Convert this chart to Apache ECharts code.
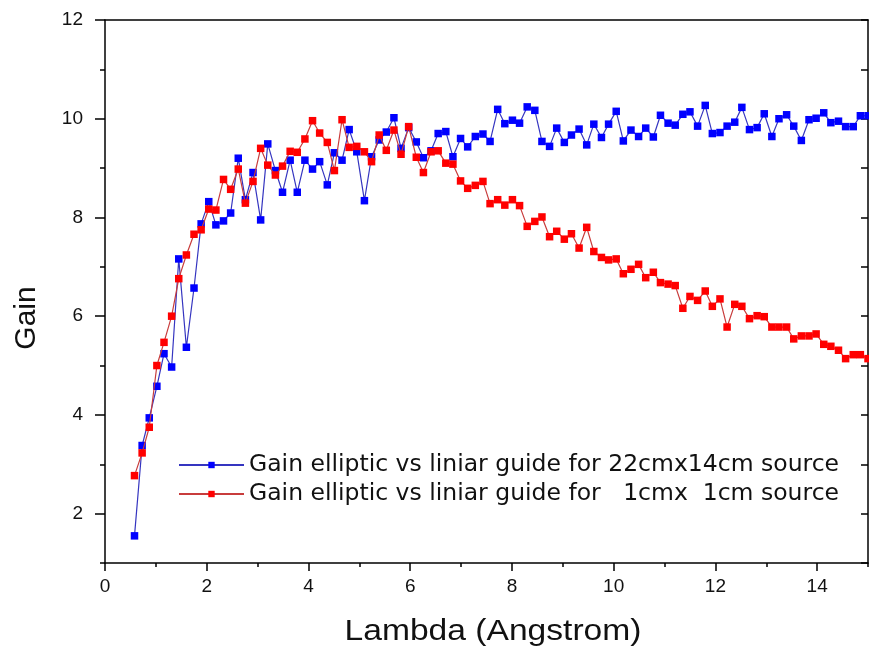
<!DOCTYPE html>
<html>
<head>
<meta charset="utf-8">
<script src="https://cdn.jsdelivr.net/npm/echarts@6/dist/echarts.min.js"></script>
<style>
html,body{margin:0;padding:0;background:#fff;}
#chart{width:869px;height:650px;}
</style>
</head>
<body>
<div id="chart"></div>
<script>
// Wavelength grid (Angstrom)
var lambda = [0.58,0.73,0.87,1.02,1.16,1.31,1.45,1.60,1.75,1.89,
2.04,2.18,2.33,2.47,2.62,2.76,2.91,3.06,3.20,3.35,
3.49,3.64,3.78,3.93,4.08,4.22,4.37,4.51,4.66,4.80,
4.95,5.10,5.24,5.39,5.53,5.68,5.82,5.97,6.12,6.26,
6.41,6.55,6.70,6.84,6.99,7.13,7.28,7.43,7.57,7.72,
7.86,8.01,8.15,8.30,8.45,8.59,8.74,8.88,9.03,9.17,
9.32,9.47,9.61,9.76,9.90,10.05,10.19,10.34,10.49,10.63,
10.78,10.92,11.07,11.21,11.36,11.50,11.65,11.80,11.94,12.09,
12.23,12.38,12.52,12.67,12.82,12.96,13.11,13.25,13.40,13.54,
13.69,13.84,13.98,14.13,14.27,14.42,14.56,14.71,14.85,15.00];

// Gain, 22cm x 14cm source (blue)
var gainBig = [1.55,3.38,3.94,4.58,5.24,4.97,7.16,5.37,6.57,7.87,
8.32,7.85,7.93,8.09,9.20,8.36,8.91,7.95,9.49,8.95,
8.51,9.16,8.51,9.16,8.98,9.13,8.66,9.31,9.16,9.78,
9.33,8.34,9.23,9.57,9.73,10.02,9.40,9.82,9.53,9.21,
9.35,9.70,9.74,9.23,9.60,9.43,9.64,9.69,9.54,10.19,
9.90,9.97,9.91,10.24,10.17,9.54,9.44,9.81,9.52,9.67,
9.79,9.47,9.89,9.62,9.89,10.15,9.55,9.77,9.64,9.81,
9.63,10.07,9.91,9.87,10.09,10.14,9.85,10.27,9.70,9.72,
9.85,9.93,10.23,9.78,9.82,10.10,9.64,10.00,10.08,9.85,
9.56,9.98,10.01,10.12,9.92,9.95,9.84,9.84,10.06,10.06];

// Gain, 1cm x 1cm source (red)
var gainSmall = [2.77,3.23,3.75,5.00,5.47,6.00,6.76,7.24,7.66,7.75,
8.17,8.15,8.77,8.57,8.98,8.29,8.73,9.40,9.06,8.86,
9.04,9.34,9.32,9.59,9.96,9.71,9.52,8.95,9.98,9.42,
9.44,9.33,9.13,9.67,9.36,9.77,9.28,9.84,9.22,8.91,
9.33,9.35,9.10,9.08,8.74,8.59,8.65,8.73,8.28,8.36,
8.25,8.36,8.24,7.82,7.92,8.01,7.61,7.72,7.56,7.67,
7.38,7.80,7.31,7.19,7.14,7.16,6.86,6.95,7.05,6.78,
6.89,6.68,6.65,6.62,6.16,6.40,6.32,6.51,6.20,6.35,
5.78,6.24,6.20,5.95,6.01,5.99,5.78,5.78,5.78,5.54,
5.60,5.60,5.64,5.43,5.39,5.31,5.14,5.22,5.22,5.14];

var seriesNames = ['Gain elliptic vs liniar guide for 22cmx14cm source',
                   'Gain elliptic vs liniar guide for   1cmx  1cm source'];
var xMajorTicks = [0,2,4,6,8,10,12,14];
var xMinorTicks = [1,3,5,7,9,11,13,15];
var yMajorTicks = [2,4,6,8,10,12];
var yMinorTicks = [1,3,5,7,9,11];
var yAllTicks = [1,2,3,4,5,6,7,8,9,10,11,12];
var xTitle = 'Lambda (Angstrom)';
var yTitle = 'Gain';

function pairs(xs, ys){ return xs.map(function(x,i){ return [x, ys[i]]; }); }

var FONT = 'Liberation Sans, Arial, sans-serif';
var chart = echarts.init(document.getElementById('chart'), null, {renderer:'canvas'});
var axisLine = {show:true, onZero:false, lineStyle:{color:'#000', width:1.5}};
chart.setOption({
  animation:false,
  backgroundColor:'#fff',
  grid:{left:105, right:1, top:20, bottom:87, containLabel:false},
  xAxis:[
    {type:'value', min:0, max:15, position:'bottom',
     axisLine:axisLine,
     axisTick:{show:true, inside:false, length:8, customValues:xMajorTicks, lineStyle:{color:'#000', width:1.5}},
     axisLabel:{show:true, customValues:xMajorTicks, margin:14, fontSize:19, color:'#111', fontFamily:FONT},
     splitLine:{show:false}},
    {type:'value', min:0, max:15, position:'bottom',
     axisLine:{show:false, onZero:false},
     axisTick:{show:true, inside:false, length:4, customValues:xMinorTicks, lineStyle:{color:'#000', width:1.5}},
     axisLabel:{show:false}, splitLine:{show:false}},
    {type:'value', min:0, max:15, position:'top',
     axisLine:axisLine, axisTick:{show:false}, axisLabel:{show:false}, splitLine:{show:false}}
  ],
  yAxis:[
    {type:'value', min:1, max:12, position:'left',
     axisLine:axisLine,
     axisTick:{show:true, inside:false, length:10, customValues:yMajorTicks, lineStyle:{color:'#000', width:1.5}},
     axisLabel:{show:true, customValues:yMajorTicks, margin:22, fontSize:19, color:'#111', fontFamily:FONT},
     splitLine:{show:false}},
    {type:'value', min:1, max:12, position:'left',
     axisLine:{show:false},
     axisTick:{show:true, inside:false, length:5, customValues:yMinorTicks, lineStyle:{color:'#000', width:1.5}},
     axisLabel:{show:false}, splitLine:{show:false}},
    {type:'value', min:1, max:12, position:'right',
     axisLine:axisLine,
     axisTick:{show:true, inside:true, length:7, customValues:yAllTicks, lineStyle:{color:'#000', width:1.5}},
     axisLabel:{show:false}, splitLine:{show:false}}
  ],
  legend:{
    orient:'vertical', left:173, top:448, itemWidth:65, itemHeight:8, itemGap:5,
    textStyle:{fontSize:23.5, color:'#111', fontFamily:'DejaVu Sans, sans-serif'},
    data:seriesNames
  },
  graphic:[
    {type:'text', x:493, y:632, scaleX:1.12, style:{text:xTitle, fontSize:30, fontFamily:FONT, fill:'#111', align:'center', verticalAlign:'middle'}},
    {type:'text', x:27, y:318, rotation:Math.PI/2, style:{text:yTitle, fontSize:30, fontFamily:FONT, fill:'#111', align:'center', verticalAlign:'middle'}}
  ],
  series:[
    {name:seriesNames[0], type:'line', xAxisIndex:0, yAxisIndex:0, data:pairs(lambda, gainBig),
     symbol:'rect', symbolSize:7.5, showAllSymbol:true,
     lineStyle:{color:'#3535c0', width:1.2}, itemStyle:{color:'#0000ff'}, z:2},
    {name:seriesNames[1], type:'line', xAxisIndex:0, yAxisIndex:0, data:pairs(lambda, gainSmall),
     symbol:'rect', symbolSize:7.5, showAllSymbol:true,
     lineStyle:{color:'#c83c3c', width:1.2}, itemStyle:{color:'#ff0000'}, z:3}
  ]
});
</script>
</body>
</html>
